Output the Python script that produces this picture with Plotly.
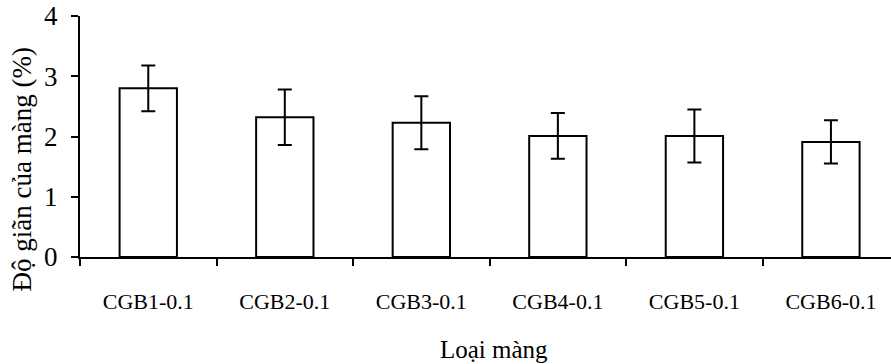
import plotly.graph_objects as go

# Membrane types and measured elongation (%) with standard deviation
categories = ["CGB1-0.1", "CGB2-0.1", "CGB3-0.1", "CGB4-0.1", "CGB5-0.1", "CGB6-0.1"]
elongation = [2.80, 2.32, 2.23, 2.01, 2.01, 1.91]
std_dev = [0.38, 0.46, 0.44, 0.38, 0.44, 0.36]

y_ticks = [0, 1, 2, 3, 4]

FONT = "Liberation Serif"

fig = go.Figure()
fig.add_trace(go.Bar(
    x=categories,
    y=elongation,
    width=0.42,
    marker=dict(color="white", line=dict(color="black", width=2)),
    error_y=dict(type="data", array=std_dev, visible=True,
                 color="black", thickness=2, width=7),
    showlegend=False,
))

fig.update_layout(
    width=891, height=364,
    margin=dict(l=80, r=0, t=16, b=107),
    paper_bgcolor="white", plot_bgcolor="white",
    font=dict(family=FONT, color="black"),
    xaxis=dict(
        type="category",
        range=[-0.5, 5.44],
        showline=True, linecolor="black", linewidth=2,
        ticks="outside", tickson="boundaries", ticklen=7, tickwidth=2, tickcolor="black",
        tickfont=dict(family=FONT, size=22),
        ticklabelstandoff=24,
        showgrid=False, zeroline=False,
    ),
    yaxis=dict(
        range=[0, 4],
        tickvals=y_ticks,
        showline=True, linecolor="black", linewidth=2,
        ticks="outside", ticklen=7, tickwidth=2, tickcolor="black",
        tickfont=dict(family=FONT, size=27),
        ticklabelstandoff=8,
        showgrid=False, zeroline=False,
    ),
    annotations=[
        dict(text="Loại màng", xref="paper", yref="paper",
             x=(494 - 80) / 811, y=0, xanchor="center", yanchor="middle",
             yshift=-92, showarrow=False, font=dict(family=FONT, size=25)),
        dict(text="Độ giãn của màng (%)", xref="paper", yref="paper",
             x=0, y=0.5, xanchor="center", yanchor="middle",
             xshift=-59, yshift=-33, textangle=-90, showarrow=False,
             font=dict(family=FONT, size=27)),
    ],
)

fig.write_html("out.html")
